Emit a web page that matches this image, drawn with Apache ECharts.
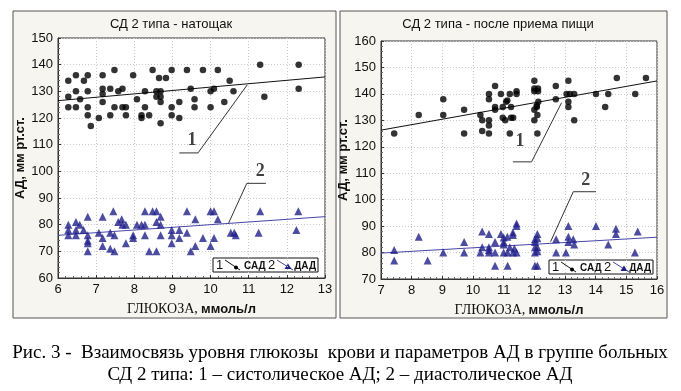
<!DOCTYPE html>
<html><head><meta charset="utf-8">
<script src="https://cdn.jsdelivr.net/npm/echarts@6/dist/echarts.min.js"></script>
<style>html,body{margin:0;padding:0;background:#fff}#c{width:681px;height:391px}</style>
</head><body><div id="c"></div>
<script>
// ---- data ----
const titleLeft = 'СД 2 типа - натощак';
const titleRight = 'СД 2 типа - после приема пищи';
const yName = 'АД, мм рт.ст.';
const captionLines = ['Рис. 3 -  Взаимосвязь уровня глюкозы  крови и параметров АД в группе больных',
                      'СД 2 типа: 1 – систолическое АД; 2 – диастолическое АД'];
const xTicksLeft = [6, 13];
const yTicksLeft = [60, 150];
const xTicksRight = [7, 16];
const yTicksRight = [70, 160];

const leftSAD = [[6.27,134],[6.27,128],[6.27,124],[6.47,136],[6.47,130],[6.47,124],[6.58,127],[6.68,134],[6.78,136],[6.78,130],[6.78,124],[6.78,121],[6.86,117],[7.07,120],[7.17,136],[7.17,131],[7.17,129],[7.17,126],[7.37,131],[7.37,121],[7.48,138],[7.48,124],[7.58,130],[7.69,131],[7.69,124],[7.78,124],[7.78,121],[7.97,136],[8.07,127],[8.19,121],[8.19,120],[8.28,130],[8.28,124],[8.39,121],[8.48,138],[8.58,130],[8.58,128],[8.65,135],[8.69,130],[8.69,128],[8.69,126],[8.69,118],[8.83,135],[8.98,138],[8.98,124],[8.98,121],[9.18,126],[9.18,120],[9.38,138],[9.48,131],[9.58,127],[9.58,124],[9.8,138],[10.0,130],[10.0,124],[10.09,131],[10.19,138],[10.36,126],[10.5,134],[10.6,130],[11.3,140],[11.41,128],[12.31,140],[12.31,131]];
const leftDAD = [[6.27,80],[6.27,78],[6.27,76],[6.47,81],[6.47,78],[6.47,76],[6.57,80],[6.67,78],[6.78,83],[6.78,76],[6.78,74],[6.78,73],[6.78,70],[7.07,77],[7.17,83],[7.17,75],[7.17,72],[7.37,77],[7.37,71],[7.45,85],[7.48,76],[7.48,70],[7.58,81],[7.67,82],[7.69,80],[7.78,80],[7.78,73],[7.97,76],[7.97,75],[8.07,80],[8.19,80],[8.28,85],[8.28,80],[8.28,76],[8.39,70],[8.48,85],[8.58,85],[8.58,81],[8.58,70],[8.69,83],[8.69,80],[8.69,76],[8.98,78],[8.98,76],[8.98,73],[9.18,78],[9.18,75],[9.38,85],[9.38,77],[9.48,70],[9.6,82],[9.6,72],[9.8,75],[10.0,85],[10.09,85],[10.0,72],[10.09,75],[10.19,82],[10.53,77],[10.62,77],[10.66,76],[11.26,77],[11.3,85],[12.25,78],[12.3,85]];
const rightSAD = [[7.43,125],[8.23,132],[9.03,138],[9.03,132],[9.71,134],[9.71,125],[10.24,132],[10.3,130],[10.3,126],[10.52,140],[10.52,138],[10.52,130],[10.52,128],[10.52,125],[10.72,143],[10.72,135],[10.72,134],[10.91,140],[10.97,135],[10.97,131],[11.05,130],[11.08,137],[11.12,137.5],[11.2,140],[11.2,125],[11.24,135],[11.24,131],[11.31,131],[11.42,141],[11.42,140],[12.0,145],[12.0,142],[12.12,142],[12.0,141],[12.12,141],[12.7,143],[12.7,138],[12.13,137],[12.08,135.5],[12.08,135],[12.0,134],[12.1,132],[12.0,130],[12.1,125],[13.11,145],[13.05,140],[13.16,140],[13.3,140],[13.11,137],[13.11,135],[13.3,130],[14.01,140],[14.41,140],[14.31,135],[14.69,146],[15.29,140],[15.64,146]];
const rightDAD = [[7.43,81],[7.43,77],[8.23,86],[8.52,77],[9.03,80],[9.71,84],[9.71,80],[10.24,80],[10.3,88],[10.3,82],[10.52,87],[10.52,82],[10.52,81],[10.52,80],[10.72,84],[10.72,80],[10.72,75],[10.91,87],[11.0,84],[11.0,83],[11.0,80],[11.0,85.7],[11.12,86],[11.13,80],[11.13,75],[11.2,82],[11.31,80],[11.3,87.6],[11.3,86.6],[11.42,91],[11.42,90],[11.42,80],[11.35,81.5],[12.02,85],[12.02,84],[12.02,82],[12.02,80],[12.02,75],[12.1,75],[12.1,87],[12.1,85.4],[12.1,82],[12.1,80.5],[12.71,85],[12.71,80],[13.03,80],[13.11,90],[13.11,86],[13.11,84],[13.27,85],[13.3,83],[14.01,90],[14.41,83],[14.66,89],[14.66,87],[15.28,80],[15.37,88]];

// regression lines (endpoints)
const leftTrendSAD = [[6,126.5],[13,135.4]];
const leftTrendDAD = [[6,76],[13,83]];
const rightTrendSAD = [[7,126.3],[16,144.9]];
const rightTrendDAD = [[7,79.8],[16,85.8]];
// annotation leader lines
const leftLeader1 = [[9.18,106.9],[9.67,106.9],[10.96,132.4]];
const leftLeader2 = [[11.45,95.5],[10.95,95.5],[10.47,80.5]];
const rightLeader1 = [[11.3,114.3],[11.91,114.3],[12.89,136.7]];
const rightLeader2 = [[14.01,103.0],[13.27,103.0],[12.53,84.1]];
const leftLabels = [[9.51,111.8,'1'],[11.3,99.9,'2']];
const rightLabels = [[11.53,121.9,'1'],[13.68,107.2,'2']];
const legendNames = ['1','САД','2','ДАД'];

// ---- chart ----
const SANS = 'Liberation Sans, Arial, sans-serif';
const SERIF = 'Liberation Serif, Times New Roman, serif';
const sadColor = '#000000', dadColor = '#1f1f8a', dadLine = '#4646a8';

function xAxisCfg(idx, ticks){
  return {type:'value', gridIndex: idx, min: ticks[0], max: ticks[1], interval: 1,
    name: '{a|ГЛЮКОЗА,} {b|ммоль/л}', nameLocation:'middle', nameGap: 24,
    nameTextStyle:{rich:{a:{fontFamily:SERIF, fontSize:14, color:'#111'}, b:{fontFamily:SANS, fontSize:13, fontWeight:'bold', color:'#111'}}},
    axisLine:{show:true, lineStyle:{color:'#333'}},
    axisTick:{show:true, inside:true, length:3, lineStyle:{color:'#333'}},
    minorTick:{show:true, splitNumber:5, length:2, lineStyle:{color:'#666'}},
    axisLabel:{color:'#111', fontFamily:SANS, fontSize:13, margin:5},
    splitLine:{show:true, lineStyle:{color:'#c9c9c9', type:[1,2]}}};
}
function yAxisCfg(idx, ticks, gap){
  return {type:'value', gridIndex: idx, min: ticks[0], max: ticks[1], interval: 10,
    name: yName, nameLocation:'middle', nameGap: gap, nameRotate: 90,
    nameTextStyle:{fontFamily:SANS, fontSize:13, fontWeight:'bold', color:'#111'},
    axisLine:{show:true, lineStyle:{color:'#333'}},
    axisTick:{show:true, inside:true, length:3, lineStyle:{color:'#333'}},
    minorTick:{show:true, splitNumber:5, length:2, lineStyle:{color:'#666'}},
    axisLabel:{color:'#111', fontFamily:SANS, fontSize:13, margin:5},
    splitLine:{show:true, lineStyle:{color:'#c9c9c9', type:[1,2]}}};
}
function scatter(idx, data, sym, size, color){
  return {type:'scatter', xAxisIndex:idx, yAxisIndex:idx, data, symbol:sym, symbolSize:size,
    itemStyle:{color}, silent:true, z:5};
}
function line(idx, data, color){
  return {type:'line', xAxisIndex:idx, yAxisIndex:idx, data, symbol:'none',
    lineStyle:{color, width:1}, silent:true, z:4};
}
function labels(idx, data){
  return {type:'scatter', xAxisIndex:idx, yAxisIndex:idx, data, symbolSize:0, silent:true, z:6,
    label:{show:true, position:'inside', formatter:p=>p.value[2], fontFamily:SERIF, fontWeight:'bold', fontSize:18, color:'#111'}};
}
function legendGroup(x, y, w){
  return {type:'group', x, y, z:20, children:[
    {type:'rect', shape:{x:0,y:0,width:w,height:14}, style:{fill:'#fff', stroke:'#111', lineWidth:1}},
    {type:'text', x:3, y:7.5, style:{text:legendNames[0], fontFamily:SANS, fontSize:13, fill:'#111', verticalAlign:'middle'}},
    {type:'line', shape:{x1:12,y1:2,x2:27,y2:12}, style:{stroke:'#111', lineWidth:1}},
    {type:'circle', shape:{cx:23,cy:9.5,r:2}, style:{fill:'#000'}},
    {type:'text', x:31, y:8, style:{text:legendNames[1], fontFamily:SANS, fontWeight:'bold', fontSize:10, fill:'#111', verticalAlign:'middle'}},
    {type:'text', x:55, y:7.5, style:{text:legendNames[2], fontFamily:SANS, fontSize:13, fill:'#111', verticalAlign:'middle'}},
    {type:'line', shape:{x1:64,y1:2,x2:80,y2:12}, style:{stroke:dadLine, lineWidth:1}},
    {type:'polygon', shape:{points:[[75,5.5],[78.5,11],[71.5,11]]}, style:{fill:dadColor}},
    {type:'text', x:w-2, y:8, style:{text:legendNames[3], fontFamily:SANS, fontWeight:'bold', fontSize:10, fill:'#111', align:'right', verticalAlign:'middle'}}
  ]};
}

const option = {
  backgroundColor:'#fff',
  animation:false,
  grid:[
    {left:58, top:38, width:267, height:240, show:true, backgroundColor:'#fff', borderColor:'#333', borderWidth:1},
    {left:381, top:41, width:276, height:238, show:true, backgroundColor:'#fff', borderColor:'#333', borderWidth:1}
  ],
  xAxis:[xAxisCfg(0, xTicksLeft), xAxisCfg(1, xTicksRight)],
  yAxis:[yAxisCfg(0, yTicksLeft, 27), yAxisCfg(1, yTicksRight, 27)],
  series:[
    line(0, leftTrendSAD, '#111'),
    line(0, leftTrendDAD, dadLine),
    line(0, leftLeader1, '#333'),
    line(0, leftLeader2, '#333'),
    scatter(0, leftSAD, 'circle', 6.5, sadColor),
    scatter(0, leftDAD, 'triangle', 8, dadColor),
    labels(0, leftLabels),
    line(1, rightTrendSAD, '#111'),
    line(1, rightTrendDAD, dadLine),
    line(1, rightLeader1, '#333'),
    line(1, rightLeader2, '#333'),
    scatter(1, rightSAD, 'circle', 6.5, sadColor),
    scatter(1, rightDAD, 'triangle', 8, dadColor),
    labels(1, rightLabels)
  ],
  graphic:[
    {type:'rect', z:-10, shape:{x:13,y:11,width:323,height:307}, style:{fill:'#f6f5ef', stroke:'#555', lineWidth:1}},
    {type:'rect', z:-10, shape:{x:340,y:11,width:327,height:307}, style:{fill:'#f6f5ef', stroke:'#555', lineWidth:1}},
    {type:'text', x:171, y:24, style:{text:titleLeft, fontFamily:SANS, fontSize:13, fill:'#111', align:'center', verticalAlign:'middle'}},
    {type:'text', x:498, y:24, style:{text:titleRight, fontFamily:SANS, fontSize:13, fill:'#111', align:'center', verticalAlign:'middle'}},
    legendGroup(213, 258, 105),
    legendGroup(549, 260, 104),
    {type:'text', x:340, y:353, style:{text:captionLines[0], fontFamily:SERIF, fontSize:19, fill:'#000', align:'center', verticalAlign:'middle'}},
    {type:'text', x:340, y:375, style:{text:captionLines[1], fontFamily:SERIF, fontSize:19, fill:'#000', align:'center', verticalAlign:'middle'}}
  ]
};
const chart = echarts.init(document.getElementById('c'), null, {renderer:'canvas'});
chart.setOption(option);
</script></body></html>
